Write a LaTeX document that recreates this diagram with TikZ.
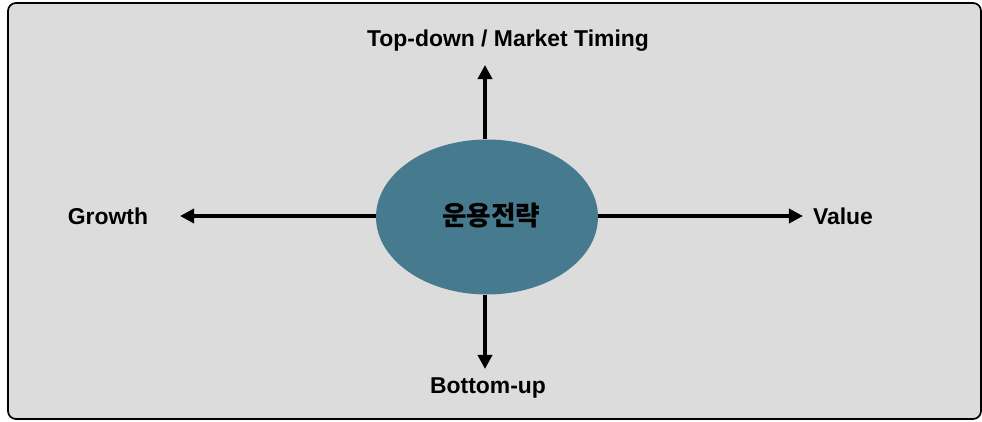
\documentclass[tikz,border=0pt]{standalone}
\usepackage{fontspec}
\setmainfont{Liberation Sans}
\newfontfamily\korean{Noto Sans CJK KR}
\usetikzlibrary{shapes.geometric,arrows.meta}
\definecolor{panelgray}{HTML}{DCDCDC}
\definecolor{tealblue}{HTML}{467A8E}
\tikzset{
    axis/.style={line width=2.6pt,-{Triangle[length=10pt,width=10pt]}},
    label/.style={font=\bfseries\fontsize{16.3}{18}\selectfont}
}

\begin{document}
\begin{tikzpicture}
    \useasboundingbox (0,0) rectangle (24.55,10.525);
    \draw [fill=panelgray,line width=1.2pt,rounded corners=0.2cm] (0.2,0.05) rectangle (24.525,10.45);
    \node (core) [ellipse,fill=tealblue,minimum width=5.55cm,minimum height=3.875cm] at (12.175,5.1) {};
    \node (core_text) [font=\korean\bfseries\fontsize{19}{21}\selectfont] at (12.28,5.125) {운용전략};
    \coordinate (up_end) at (12.125,8.9);
    \coordinate (down_end) at (12.125,1.3);
    \coordinate (left_end) at (4.5,5.125);
    \coordinate (right_end) at (20.075,5.125);
    \draw [axis] (core.north -| up_end) to (up_end);
    \draw [axis] (core.south -| down_end) to (down_end);
    \draw [axis] (core.west |- left_end) to (left_end);
    \draw [axis] (core.east |- right_end) to (right_end);
    \node (topdown) [label] at (12.7,9.5) {Top-down / Market Timing};
    \node (growth) [label] at (2.7,5.125) {Growth};
    \node (value) [label] at (21.075,5.125) {Value};
    \node (bottomup) [label] at (12.2,0.825) {Bottom-up};
\end{tikzpicture}
\end{document}
